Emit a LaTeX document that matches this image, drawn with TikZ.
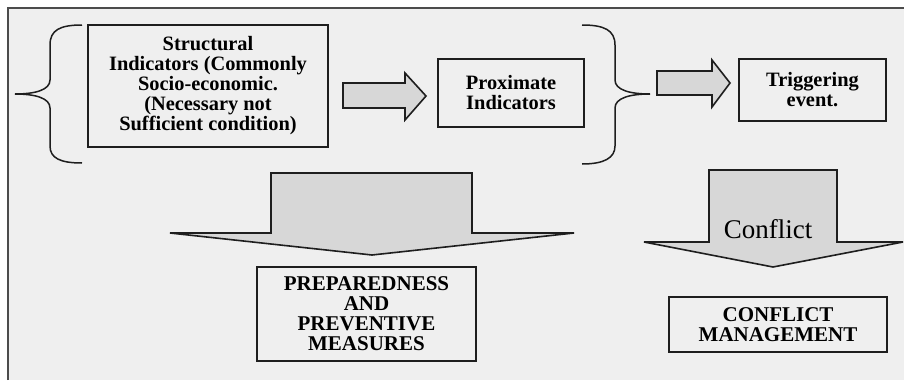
\documentclass[tikz,border=0pt]{standalone}
\usepackage{fontspec}
\setmainfont{Liberation Serif}
\definecolor{bgc}{HTML}{EFEFEF}
\definecolor{arrc}{HTML}{D7D7D7}
\definecolor{linec}{HTML}{1E1E1E}
\begin{document}
\begin{tikzpicture}[x=1pt,y=-1pt,
  box/.style={draw=linec,line width=1.6pt,fill=bgc,align=center,inner sep=0pt,
    font=\fontsize{20.4}{20}\selectfont\bfseries},
  capbox/.style={box,font=\fontsize{21}{20}\selectfont\bfseries},
  blockarrow/.style={draw=linec,line width=1.6pt,fill=arrc,line join=miter},
  bracepath/.style={draw=linec,line width=1.5pt}]
\useasboundingbox (0,0) rectangle (904,380);
\fill[white] (0,0) rectangle (904,380);
\fill[bgc] (8,8) rectangle (904,380);
\draw[color=black!70,line width=1.6pt] (8,380) -- (8,8) -- (904,8);

% braces
\draw[bracepath] (82,25) .. controls (60,25) and (50,30) .. (50,45) -- (50,80)
  .. controls (50,90) and (35,94) .. (15,94)
  .. controls (35,94) and (50,98) .. (50,108) -- (50,146)
  .. controls (50,158) and (60,163) .. (82,163);
\draw[bracepath] (582,25) .. controls (604,25) and (615,30) .. (615,45) -- (615,80)
  .. controls (615,90) and (630,94) .. (650,94)
  .. controls (630,94) and (615,98) .. (615,108) -- (615,146)
  .. controls (615,158) and (604,164) .. (582,164);

% boxes
\node[box,minimum width=240pt,minimum height=122pt] (struct) at (208,86)
  {Structural\\Indicators (Commonly\\Socio-economic.\\(Necessary not\\Sufficient condition)};
\node[box,minimum width=146pt,minimum height=68pt] (prox) at (511,93)
  {Proximate\\Indicators};
\node[box,minimum width=147pt,minimum height=62pt] (trig) at (812.5,90)
  {Triggering\\event.};
\node[capbox,minimum width=219pt,minimum height=94pt] (prep) at (366.5,314)
  {PREPAREDNESS\\AND\\PREVENTIVE\\MEASURES};
\node[capbox,minimum width=218pt,minimum height=55pt] (cman) at (778,324.5)
  {CONFLICT\\MANAGEMENT};

% block arrows
\draw[blockarrow] (343,83) -- (405,83) -- (405,73) -- (426,96) -- (405,120) -- (405,108) -- (343,108) -- cycle;
\draw[blockarrow] (657,71) -- (712,71) -- (712,60) -- (730,83) -- (712,107) -- (712,95) -- (657,95) -- cycle;
\draw[blockarrow] (271,173) -- (472,173) -- (472,233) -- (574,233) -- (372,255) -- (170,233) -- (271,233) -- cycle;
\draw[blockarrow] (709,170) -- (837,170) -- (837,242) -- (903,242) -- (773,267) -- (644,242) -- (709,242) -- cycle;
\node[font=\fontsize{27}{27}\selectfont,inner sep=0pt] (conf) at (768,229) {Conflict};
\end{tikzpicture}
\end{document}
